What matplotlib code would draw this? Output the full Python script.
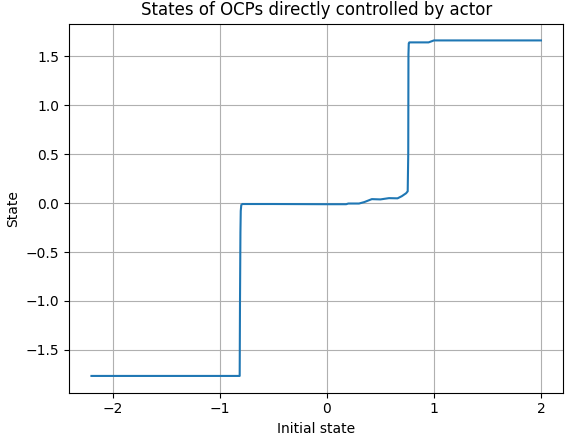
import numpy as np
import matplotlib
matplotlib.use("Agg")
import matplotlib.pyplot as plt

# initial state vs final state of the OCP
init_state = [-2.2, -0.815, -0.812, -0.808, -0.805, -0.80, -0.79, -0.5, 0.0, 0.18,
              0.2, 0.3, 0.35, 0.42, 0.5, 0.58, 0.66, 0.70, 0.74, 0.755,
              0.76, 0.762, 0.765, 0.77, 0.95, 1.0, 1.5, 2.0]
state = [-1.765, -1.765, -1.0, -0.3, -0.08, -0.02, -0.01, -0.01, -0.012, -0.012,
         -0.005, -0.005, 0.01, 0.04, 0.037, 0.05, 0.048, 0.07, 0.10, 0.12,
         0.5, 1.52, 1.63, 1.64, 1.64, 1.66, 1.66, 1.66]

fig = plt.figure(figsize=(5.72, 4.38), dpi=100)
fig.subplots_adjust(left=0.1206, right=0.985, top=0.946, bottom=0.1034)
plt.plot(init_state, state)
plt.title("States of OCPs directly controlled by actor")
plt.xlabel("Initial state")
plt.ylabel("State")
plt.grid()
plt.savefig("out.png", dpi=100)
